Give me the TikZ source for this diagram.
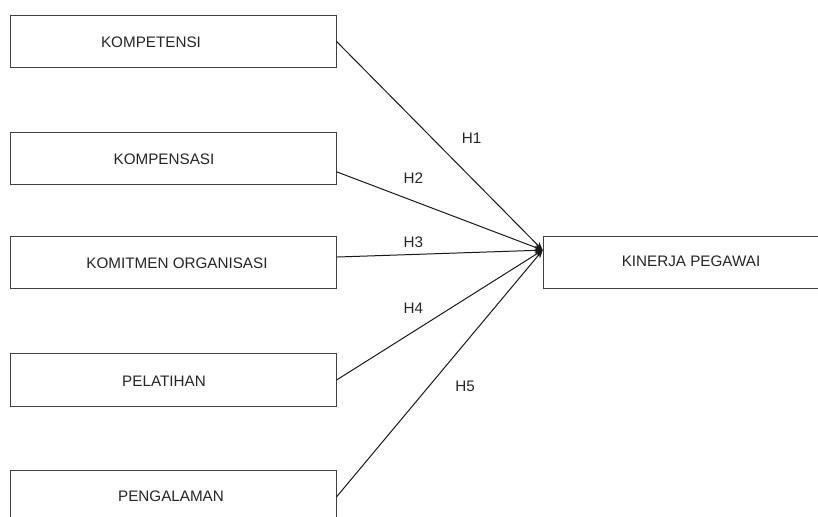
\documentclass[tikz,border=0pt]{standalone}
\usepackage{fontspec}
\setmainfont{Liberation Sans}
\usetikzlibrary{arrows.meta}

\tikzset{
  varbox/.style={draw=black!75, line width=0.9pt, minimum width=9.76cm, minimum height=1.57cm, inner sep=0pt},
  vartext/.style={font=\fontsize{13}{15}\selectfont, text=black!85, inner sep=0pt},
  hyp/.style={draw=black!90, line width=0.85pt, -{Stealth[length=7pt,width=5.5pt]}},
  hyplabel/.style={font=\fontsize{13}{15}\selectfont, text=black!85, inner sep=0pt}
}

\begin{document}
\begin{tikzpicture}[x=0.03cm, y=-0.03cm]
\clip (0,0) rectangle (818,517);
\fill[white] (0,0) rectangle (818,517);
% left side
\node[varbox] (kompetensi) at (173.4,41.5) {};
\node[varbox] (kompensasi) at (173.4,158.8) {};
\node[varbox] (komitmen) at (173.4,262.7) {};
\node[varbox] (pelatihan) at (173.4,380) {};
\node[varbox] (pengalaman) at (173.4,496.8) {};
\node[vartext] (kompetensi-txt) at (151,42) {KOMPETENSI};
\node[vartext] (kompensasi-txt) at (164,159) {KOMPENSASI};
\node[vartext] (komitmen-txt) at (177,263) {KOMITMEN ORGANISASI};
\node[vartext] (pelatihan-txt) at (164,381) {PELATIHAN};
\node[vartext] (pengalaman-txt) at (171,496) {PENGALAMAN};
% right side
\node[varbox] (kinerja) at (705.9,262.8) {};
\node[vartext] (kinerja-txt) at (691,261) {KINERJA PEGAWAI};
\coordinate (tip) at ([yshift=0.38cm]kinerja.west);
% hypotheses
\draw[hyp] (kompetensi.east) -- (tip);
\draw[hyp] ([yshift=-0.39cm]kompensasi.east) -- (tip);
\draw[hyp] ([yshift=0.17cm]komitmen.east) -- (tip);
\draw[hyp] (pelatihan.east) -- (tip);
\draw[hyp] (pengalaman.east) -- (tip);
\node[hyplabel] (h1) at (471.7,138.3) {H1};
\node[hyplabel] (h2) at (413.3,177.7) {H2};
\node[hyplabel] (h3) at (413.3,242.7) {H3};
\node[hyplabel] (h4) at (413.3,308.3) {H4};
\node[hyplabel] (h5) at (465,386) {H5};
\end{tikzpicture}
\end{document}
